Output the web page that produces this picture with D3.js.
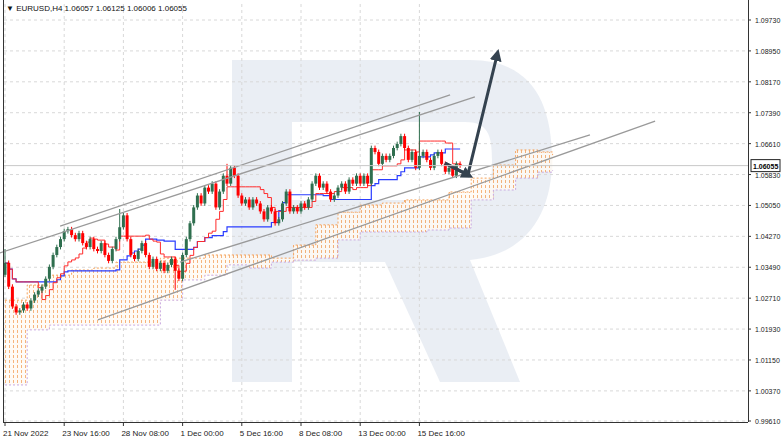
<!DOCTYPE html>
<html><head><meta charset="utf-8">
<script src="https://cdn.jsdelivr.net/npm/d3@7"></script>
<style>body{margin:0;background:#fff;font-family:"Liberation Sans",Arial,sans-serif}</style>
</head><body><div id="chart"></div>
<script>
// closes of H4 candles
const closes = [1.0360,1.0300,1.0250,1.0235,
  1.0240,1.0255,1.0245,1.0265,1.0280,1.0290,1.0300,
  1.0320,1.0350,1.0380,1.0400,1.0420,1.0440,1.0445,1.0430,
  1.0420,1.0435,1.0410,1.0400,1.0420,1.0395,1.0390,1.0410,1.0380,1.0365,1.0395,1.0420,
  1.0450,1.0480,1.0420,1.0380,1.0370,1.0390,
  1.0410,1.0380,1.0350,1.0370,1.0345,1.0360,1.0340,1.0355,1.0370,1.0340,1.0320,1.0380,
  1.0420,1.0460,1.0500,1.0530,1.0510,1.0550,1.0540,1.0560,1.0500,1.0540,1.0580,1.0560,
  1.0600,1.0580,1.0530,1.0510,1.0520,1.0500,
  1.0520,1.0510,1.0490,1.0470,1.0500,1.0490,1.0460,1.0470,1.0510,1.0540,1.0490,1.0500,
  1.0490,1.0510,1.0500,1.0520,1.0560,1.0580,1.0550,1.0560,1.0540,1.0520,1.0530,1.0550,
  1.0560,1.0540,1.0570,1.0560,1.0580,1.0560,1.0580,1.0560,
  1.0650,1.0640,1.0610,1.0630,1.0620,1.0630,
  1.0650,1.0660,1.0680,1.0650,1.0620,1.0640,1.0600,1.0630,
  1.0640,1.0620,1.0600,1.0630,1.0640,1.0610,1.0590,1.0600,1.0580,1.0610,1.0606];
const firstOpen = 1.0330;
// notable wick extremes [index, high, low]
const spikes = [[31, 1.0496, null], [46, null, 1.0292], [112, 1.0741, null], [0, 1.0395, null], [60, 1.0610, null]];
const wick = 0.0006;

// ichimoku cloud spans (index, spanA, spanB)
const cloudIdx = [0,6,12,18,24,30,36,42,48,54,60,66,72,78,84,90,96,102,108,114,120,126,132,138,144,148];
const spanA = [1.0266,1.0304,1.0329,1.0342,1.0347,1.0362,1.0362,1.0372,1.0372,1.0380,1.0380,1.0380,1.0372,1.0405,1.0456,1.0488,1.0506,1.0511,1.0519,1.0519,1.0539,1.0574,1.0607,1.0645,1.0640,1.0632];
const spanB = [1.0052,1.0191,1.0203,1.0203,1.0203,1.0203,1.0203,1.0266,1.0317,1.0329,1.0355,1.0347,1.0362,1.0367,1.0372,1.0418,1.0438,1.0438,1.0438,1.0443,1.0448,1.0519,1.0544,1.0574,1.0589,1.0594];

// channel lines and forecast arrow [index, price]
const channels = [
  [[-1.4,1.0385],[127,1.0779]],
  [[14.9,1.0453],[120.3,1.0784]],
  [[47.3,1.0362],[158.1,1.0683]],
  [[25.1,1.0216],[175.7,1.0718]]];
const arrowPts = [[118.9,1.0612],[125.1,1.0582],[133,1.0885]];

const priceTicks = [1.0973,1.0895,1.0817,1.0739,1.0661,1.0583,1.0505,1.0427,1.0349,1.0271,1.0193,1.0115,1.0037,0.9961];
const timeLabels = ["21 Nov 2022","23 Nov 16:00","28 Nov 08:00","1 Dec 00:00","5 Dec 16:00","8 Dec 08:00","13 Dec 00:00","15 Dec 16:00"];
const lastPrice = 1.06055;

const W = 782, H = 443, plotR = 748, plotB = 422;
const svg = d3.select('#chart').append('svg').attr('width', W).attr('height', H);

const x = d3.scaleLinear().domain([0, 100]).range([5, 375]);
const y = d3.scaleLinear().domain([0.9961, 1.0973]).range([421, 20]);

// candles
const candles = closes.map((c, i) => {
  const o = i === 0 ? firstOpen : closes[i - 1];
  let h = Math.max(o, c) + wick, l = Math.min(o, c) - wick;
  spikes.filter(s => s[0] === i).forEach(s => { if (s[1]) h = s[1]; if (s[2]) l = s[2]; });
  return {i, o, h, l, c};
});

// watermark
svg.append('path')
  .attr('d', 'M232,60 H470 C530,60 552,100 552,160 C552,215 525,255 470,260 L520,382 H440 L385,262 H292 V382 H232 Z M292,122 V200 H465 C490,200 492,185 492,160 C492,135 488,122 465,122 Z')
  .attr('fill-rule', 'evenodd').attr('fill', '#e3e8f0').attr('opacity', 0.75);

// grid
const grid = svg.append('g').attr('stroke', '#d8d8d8').attr('stroke-dasharray', '3,3');
grid.selectAll('line.h').data(priceTicks).join('line')
  .attr('x1', 4).attr('x2', plotR).attr('y1', d => y(d)).attr('y2', d => y(d));
grid.selectAll('line.v').data(timeLabels).join('line')
  .attr('x1', (d, k) => x(k * 16)).attr('x2', (d, k) => x(k * 16)).attr('y1', 4).attr('y2', plotB);

// cloud pattern
const defs = svg.append('defs');
const pat = defs.append('pattern').attr('id', 'dots').attr('patternUnits', 'userSpaceOnUse')
  .attr('width', 4).attr('height', 5);
pat.append('rect').attr('width', 4).attr('height', 5).attr('fill', '#fffaf4');
pat.append('rect').attr('x', 1).attr('y', 0).attr('width', 1).attr('height', 3).attr('fill', '#f4a25c');

const cloud = cloudIdx.map((i, k) => ({i, a: spanA[k], b: spanB[k]}));
svg.append('path').datum(cloud)
  .attr('d', d3.area().x(d => x(d.i)).y0(d => y(d.b)).y1(d => y(d.a)).curve(d3.curveStepAfter))
  .attr('fill', 'url(#dots)').attr('opacity', 0.8);
svg.append('path').datum(cloud)
  .attr('d', d3.line().x(d => x(d.i)).y(d => y(d.a)).curve(d3.curveStepAfter))
  .attr('fill', 'none').attr('stroke', '#f5a35c').attr('stroke-dasharray', '2,2');
svg.append('path').datum(cloud)
  .attr('d', d3.line().x(d => x(d.i)).y(d => y(d.b)).curve(d3.curveStepAfter))
  .attr('fill', 'none').attr('stroke', '#c8a8e0').attr('stroke-dasharray', '2,2');

// tenkan / kijun from candles
const midLine = n => candles.map((d, i) => {
  const w = candles.slice(Math.max(0, i - n + 1), i + 1);
  return {i, v: (d3.max(w, e => e.h) + d3.min(w, e => e.l)) / 2};
});
const ln = d3.line().x(d => x(d.i)).y(d => y(d.v)).curve(d3.curveStepAfter);
svg.append('path').datum(midLine(26)).attr('d', ln).attr('fill', 'none').attr('stroke', '#2a3cff').attr('stroke-width', 1.2);
svg.append('path').datum(midLine(9)).attr('d', ln).attr('fill', 'none').attr('stroke', '#ff2a2a').attr('stroke-width', 1);

// candles
const cg = svg.append('g');
cg.selectAll('line').data(candles).join('line')
  .attr('x1', d => x(d.i)).attr('x2', d => x(d.i)).attr('y1', d => y(d.h)).attr('y2', d => y(d.l))
  .attr('stroke', d => d.c >= d.o ? '#2f6f4f' : '#ff0000');
cg.selectAll('rect').data(candles).join('rect')
  .attr('x', d => x(d.i) - 1.5).attr('width', 3)
  .attr('y', d => y(Math.max(d.o, d.c))).attr('height', d => Math.max(1, Math.abs(y(d.o) - y(d.c))))
  .attr('fill', d => d.c >= d.o ? '#2f6f4f' : '#ff0000');

// channels
svg.selectAll('line.ch').data(channels).join('line').attr('class', 'ch')
  .attr('x1', d => x(d[0][0])).attr('y1', d => y(d[0][1])).attr('x2', d => x(d[1][0])).attr('y2', d => y(d[1][1]))
  .attr('stroke', '#9a9a9a').attr('stroke-width', 1.3);

// arrow
defs.append('marker').attr('id', 'ah').attr('viewBox', '0 0 10 10').attr('refX', 5).attr('refY', 5)
  .attr('markerWidth', 4).attr('markerHeight', 4).attr('orient', 'auto')
  .append('path').attr('d', 'M0,0 L10,5 L0,10 Z').attr('fill', '#34424f');
svg.append('path').datum(arrowPts)
  .attr('d', d3.line().x(d => x(d[0])).y(d => y(d[1])))
  .attr('fill', 'none').attr('stroke', '#34424f').attr('stroke-width', 3).attr('marker-end', 'url(#ah)');
svg.append('path').datum(arrowPts.slice(0, 2))
  .attr('d', d3.line().x(d => x(d[0])).y(d => y(d[1])))
  .attr('fill', 'none').attr('stroke', '#34424f').attr('stroke-width', 3).attr('marker-end', 'url(#ah)');

// last price line
svg.append('line').attr('x1', 4).attr('x2', plotR).attr('y1', y(lastPrice)).attr('y2', y(lastPrice))
  .attr('stroke', '#c8c8c8');

// frame
svg.append('line').attr('x1', 3.5).attr('x2', 3.5).attr('y1', 0).attr('y2', plotB).attr('stroke', '#333');
svg.append('line').attr('x1', plotR + 0.5).attr('x2', plotR + 0.5).attr('y1', 0).attr('y2', plotB).attr('stroke', '#333');
svg.append('line').attr('x1', 3).attr('x2', plotR).attr('y1', plotB + 0.5).attr('y2', plotB + 0.5).attr('stroke', '#333');

// price axis
const ax = svg.append('g').style('font-size', '7px').attr('fill', '#222');
ax.selectAll('line').data(priceTicks).join('line')
  .attr('x1', plotR).attr('x2', plotR + 3).attr('y1', d => y(d)).attr('y2', d => y(d)).attr('stroke', '#333');
ax.selectAll('text').data(priceTicks).join('text')
  .attr('x', plotR + 7).attr('y', d => y(d) + 3).text(d => d.toFixed(5));
svg.append('rect').attr('x', plotR + 3).attr('y', y(lastPrice) - 6).attr('width', 29).attr('height', 12)
  .attr('fill', '#fff').attr('stroke', '#222');
svg.append('text').attr('x', plotR + 5).attr('y', y(lastPrice) + 3).style('font-size', '7px')
  .style('font-weight', 'bold').text(lastPrice.toFixed(5));

// time axis
const tx = svg.append('g').style('font-size', '8px').attr('fill', '#222');
tx.selectAll('line').data(timeLabels).join('line')
  .attr('x1', (d, k) => x(k * 16)).attr('x2', (d, k) => x(k * 16)).attr('y1', plotB).attr('y2', plotB + 4).attr('stroke', '#333');
tx.selectAll('text').data(timeLabels).join('text')
  .attr('x', (d, k) => x(k * 16) - 2).attr('y', 436).text(d => d);

// header
svg.append('text').attr('x', 6).attr('y', 11).style('font-size', '8px').attr('fill', '#111')
  .text('\u25BC EURUSD,H4  1.06057 1.06125 1.06006 1.06055');
</script></body></html>
